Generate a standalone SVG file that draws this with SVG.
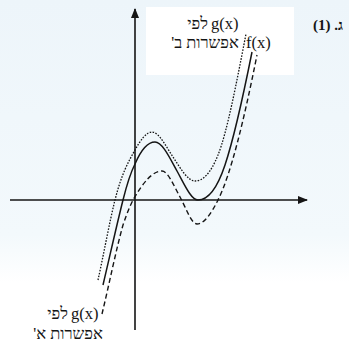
<svg xmlns="http://www.w3.org/2000/svg" width="349" height="345" viewBox="0 0 349 345">
<defs>
<linearGradient id="bg" x1="0" y1="0" x2="0" y2="1">
<stop offset="0" stop-color="#edf5fa"/>
<stop offset="0.68" stop-color="#f3f9fc"/>
<stop offset="0.82" stop-color="#ffffff"/>
</linearGradient>
<marker id="arr" viewBox="0 0 10 8" refX="9" refY="4" markerWidth="10" markerHeight="8" markerUnits="userSpaceOnUse" orient="auto">
<path d="M0,0 L10,4 L0,8 Z" fill="#151515"/>
</marker>
<style>
.axis{stroke:#151515;stroke-width:1.6;fill:none}
.f{stroke:#151515;stroke-width:1.5;fill:none}
.gb{stroke:#151515;stroke-width:1.3;fill:none;stroke-dasharray:1.6 1.4}
.ga{stroke:#151515;stroke-width:1.4;fill:none;stroke-dasharray:5 3}
.t{font-family:"Liberation Serif","DejaVu Sans",serif;font-size:16.5px;fill:#151515}
.n{font-family:"Liberation Serif","DejaVu Serif",serif;font-size:15px;font-weight:bold;fill:#151515}
</style>
</defs>
<rect x="0" y="0" width="349" height="345" fill="url(#bg)"/>
<rect x="146" y="7" width="148" height="68" fill="#ffffff"/>
<g id="axes">
<line class="axis" x1="135" y1="330" x2="135" y2="9" marker-end="url(#arr)"/>
<line class="axis" x1="10" y1="200" x2="307" y2="200" marker-end="url(#arr)"/>
</g>
<g id="connectors">
<path id="curve-f" class="f" d="M103,285 C109.7,256.7 116.3,226.7 123,200 C127,184 131,171.8 135,164 C141.7,148.3 148.3,142 155,142 C162.3,142 169.7,157.8 177,171 C184,183.6 191,200 198,200 C207,200 216,192 225,165 C234,138 243,97 252,52"/>
<path id="curve-g-b" class="gb" d="M98,280 C103.7,254.5 109.3,222.7 115,200 C121.7,173.3 128.3,162 135,150 C140.7,139.8 146.3,132 152,132 C159,132 166,146.5 173,157 C180.3,168 187.7,181 195,181 C202.7,181 210.3,174.2 218,155 C227.3,131.7 236.7,81.7 246,34"/>
<path id="curve-g-a" class="ga" d="M102,314 C109,285 116,250 123,225 C127,213 130,206 133,200 C142.7,183 152.3,171 162,171 C168,171 174,186.2 180,197 C185.7,207.2 191.3,224 197,224 C204,224 211,214 218,200 C231,174 244,120 257,55"/>
</g>
<g id="label-top">
<text class="t" x="208" y="29" text-anchor="end">לפי</text>
<text class="t" x="211" y="29">g(x)</text>
<text class="t" x="205" y="48" text-anchor="middle" direction="rtl">אפשרות ב'</text>
<text class="t" x="246" y="48">f(x)</text>
</g>
<g id="label-bottom">
<text class="t" x="68" y="319" text-anchor="end">לפי</text>
<text class="t" x="71" y="319">g(x)</text>
<text class="t" x="68" y="339" text-anchor="middle" direction="rtl">אפשרות א'</text>
</g>
<g id="label-num">
<text class="n" x="328" y="30" text-anchor="middle" direction="rtl">ג. (1)</text>
</g>
</svg>
